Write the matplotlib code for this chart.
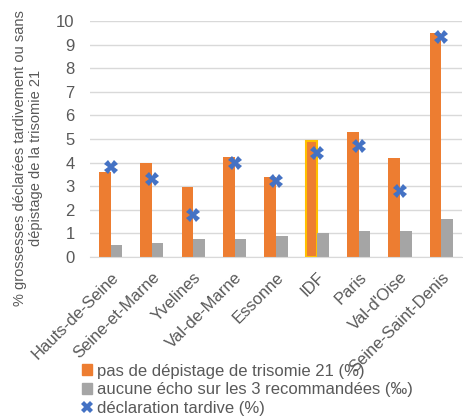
import numpy as np
import matplotlib.pyplot as plt
from matplotlib.lines import Line2D
from matplotlib.patches import Patch

plt.rcParams['font.family'] = ['Liberation Sans', 'DejaVu Sans']

departements = ['Hauts-de-Seine', 'Seine-et-Marne', 'Yvelines', 'Val-de-Marne',
                'Essonne', 'IDF', 'Paris', "Val-d'Oise", 'Seine-Saint-Denis']
pas_depistage = [3.6, 4.0, 2.95, 4.25, 3.4, 4.9, 5.3, 4.2, 9.5]      # %
aucune_echo = [0.5, 0.6, 0.75, 0.75, 0.9, 1.0, 1.1, 1.1, 1.6]       # pour mille
decl_tardive = [3.8, 3.3, 1.8, 4.0, 3.2, 4.4, 4.7, 2.8, 9.3]        # %

orange = '#ED7D31'
gris = '#A5A5A5'
bleu = '#4472C4'
texte = '#595959'

fig = plt.figure(figsize=(4.63, 4.18), dpi=100)
ax = fig.add_axes([0.194, 0.385, 0.804, 0.565])

x = np.arange(len(departements))
w = 0.28
edges = ['#FFC000' if d == 'IDF' else orange for d in departements]
ax.bar(x - w / 2, pas_depistage, w, color=orange, edgecolor=edges,
       linewidth=[1.5 if d == 'IDF' else 0 for d in departements], zorder=2)
ax.bar(x + w / 2, aucune_echo, w, color=gris, zorder=2)
ax.plot(x, decl_tardive, 'X', color=bleu, markersize=10, markeredgewidth=0, zorder=3)

ax.set_ylim(0, 10)
ax.set_xlim(-0.5, len(departements) - 0.5)
ax.set_yticks(range(0, 11))
ax.yaxis.grid(True, color='#D9D9D9', linewidth=1)
ax.set_axisbelow(True)
for s in ['top', 'right', 'left']:
    ax.spines[s].set_visible(False)
ax.spines['bottom'].set_color('#D9D9D9')
ax.tick_params(axis='both', length=0, labelsize=12, labelcolor=texte)
ax.tick_params(axis='y', pad=11)
ax.tick_params(axis='x', pad=9)
ax.set_xticks(x)
ax.set_xticklabels(departements, rotation=45, ha='right', rotation_mode='anchor')

# titre de l'axe y sur deux lignes
fig.text(0.043, 0.622, '% grossesses déclarées tardivement ou sans', rotation=90,
         ha='center', va='center', fontsize=10.5, color=texte)
fig.text(0.078, 0.622, 'dépistage de la trisomie 21', rotation=90,
         ha='center', va='center', fontsize=10.5, color=texte)

handles = [Patch(color=orange), Patch(color=gris),
           Line2D([], [], marker='X', linestyle='none', color=bleu,
                  markersize=8, markeredgewidth=0)]
labels = ['pas de dépistage de trisomie 21 (%)',
          'aucune écho sur les 3 recommandées (‰)',
          'déclaration tardive (%)']
fig.legend(handles, labels, loc='upper left', bbox_to_anchor=(0.177, 0.13),
           frameon=False, fontsize=12, labelcolor=texte, handlelength=0.6,
           handleheight=0.6, handletextpad=0.3, labelspacing=0.22,
           borderpad=0, borderaxespad=0)

fig.savefig('out.png', dpi=100)
